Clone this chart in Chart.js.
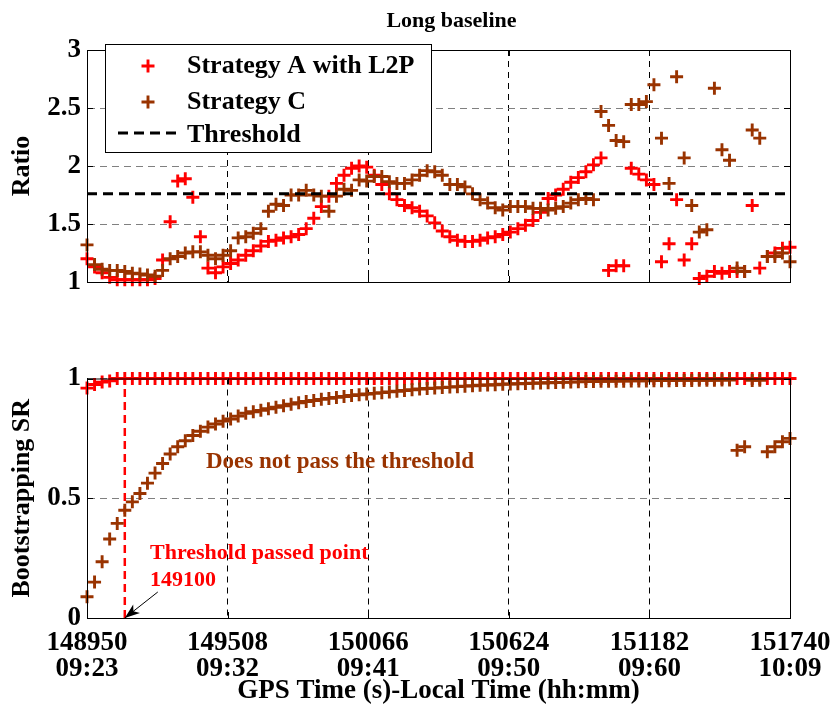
<!DOCTYPE html>
<html>
<head>
<meta charset="utf-8">
<title>Long baseline</title>
<script src="https://cdn.jsdelivr.net/npm/chart.js@4.4.0/dist/chart.umd.min.js"></script>
<style>
  html, body { margin: 0; padding: 0; background: #fff; }
  #wrap { position: relative; width: 835px; height: 707px; }
  .box { position: absolute; left: 0; width: 835px; }
</style>
</head>
<body>
<div id="wrap">
  <div class="box" style="top:0;height:300px"><canvas id="ratioChart"></canvas></div>
  <div class="box" style="top:300px;height:407px"><canvas id="srChart"></canvas></div>
</div>
<script>
// epochs are 30 s apart, from 148950 to 151740
const epochStart = 148950;
const epochStep = 30;

// ratio test values (top panel)
const ratioA = [
  1.20, 1.13, 1.08, 1.04, 1.02, 1.02, 1.02, 1.02, 1.02, 1.03,
  1.19, 1.52, 1.87, 1.89, 1.73, 1.39, 1.12, 1.08, 1.13, 1.16,
  1.19, 1.23, 1.27, 1.31, 1.35, 1.36, 1.38, 1.39, 1.41, 1.46,
  1.55, 1.65, 1.74, 1.85, 1.92, 1.98, 2.00, 1.99, 1.92, 1.84,
  1.76, 1.71, 1.66, 1.64, 1.61, 1.57, 1.51, 1.44, 1.39, 1.36,
  1.35, 1.35, 1.36, 1.38, 1.39, 1.41, 1.43, 1.46, 1.49, 1.53,
  1.60, 1.72, 1.75, 1.80, 1.86, 1.90, 1.95, 2.01, 2.07, 1.10,
  1.14, 1.14, 1.98, 1.93, 1.88, 1.84, 1.175, 1.33, 1.71, 1.19,
  1.33, 1.03, 1.05, 1.09, 1.075, 1.09, 1.09, 1.09, 1.66, 1.12,
  1.22, 1.25, 1.29, 1.30
];
const ratioC = [
  1.32, 1.15, 1.11, 1.10, 1.10, 1.09, 1.075, 1.07, 1.06, 1.05,
  1.10, 1.20, 1.22, 1.25, 1.26, 1.26, 1.23, 1.20, 1.23, 1.27,
  1.38, 1.39, 1.42, 1.46, 1.61, 1.67, 1.66, 1.75, 1.75, 1.79,
  1.75, 1.74, 1.61, 1.74, 1.80, 1.79, 1.88, 1.87, 1.91, 1.91,
  1.865, 1.85, 1.85, 1.88, 1.92, 1.96, 1.95, 1.92, 1.84, 1.84,
  1.82, 1.76, 1.71, 1.68, 1.64, 1.62, 1.65, 1.65, 1.65, 1.635,
  1.635, 1.62, 1.635, 1.65, 1.68, 1.71, 1.72, 1.71, 2.47, 2.35,
  2.22, 2.21, 2.53, 2.53, 2.555, 2.70, 2.24, 1.85, 2.77, 2.07,
  1.66, 1.43, 1.45, 2.67, 2.14, 2.05, 1.12, 1.09, 2.31, 2.24,
  1.22, 1.22, 1.25, 1.175
];
const thresholdRatio = 1.76;

// bootstrapping success rate (bottom panel)
const srA = [
  0.96, 0.975, 0.985, 0.99, 1, 1, 1, 1, 1, 1,
  1, 1, 1, 1, 1, 1, 1, 1, 1, 1,
  1, 1, 1, 1, 1, 1, 1, 1, 1, 1,
  1, 1, 1, 1, 1, 1, 1, 1, 1, 1,
  1, 1, 1, 1, 1, 1, 1, 1, 1, 1,
  1, 1, 1, 1, 1, 1, 1, 1, 1, 1,
  1, 1, 1, 1, 1, 1, 1, 1, 1, 1,
  1, 1, 1, 1, 1, 1, 1, 1, 1, 1,
  1, 1, 1, 1, 1, 1, 1, 1, 1, 1,
  1, 1, 1, 1
];
const srC = [
  0.089, 0.15, 0.235, 0.33, 0.395, 0.45, 0.485, 0.52, 0.563, 0.605,
  0.645, 0.685, 0.715, 0.74, 0.762, 0.78, 0.797, 0.81, 0.822, 0.831,
  0.843, 0.855, 0.861, 0.867, 0.874, 0.88, 0.886, 0.893, 0.899, 0.904,
  0.908, 0.913, 0.917, 0.921, 0.925, 0.929, 0.932, 0.935, 0.938, 0.941,
  0.944, 0.947, 0.95, 0.953, 0.956, 0.958, 0.96, 0.962, 0.964, 0.966,
  0.968, 0.97, 0.972, 0.973, 0.974, 0.976, 0.977, 0.978, 0.979, 0.98,
  0.981, 0.982, 0.983, 0.984, 0.985, 0.986, 0.987, 0.987, 0.988, 0.988,
  0.989, 0.989, 0.99, 0.99, 0.99, 0.991, 0.991, 0.991, 0.992, 0.992,
  0.992, 0.993, 0.993, 0.993, 0.994, 0.994, 0.70, 0.715, 0.992, 0.993,
  0.694, 0.715, 0.736, 0.75
];
const passEpoch = 149100;

// axis ticks
const gpsTicks = [148950, 149508, 150066, 150624, 151182, 151740];
const clockLabels = ["09:23", "09:32", "09:41", "09:50", "09:60", "10:09"];
const ratioTicks = [1, 1.5, 2, 2.5, 3];
const srTicks = [0, 0.5, 1];

const RED = "#ff0000";
const BROWN = "#993300";
const FONT = '"Liberation Serif", "Times New Roman", serif';

const epochs = ratioA.map((_, i) => epochStart + i * epochStep);
const toPoints = (vals) => vals.map((v, i) => ({ x: epochs[i], y: v }));

Chart.defaults.font.family = FONT;
Chart.defaults.color = "#000";

function markerSet(label, vals, color, order) {
  return {
    label: label,
    data: toPoints(vals),
    showLine: false,
    pointStyle: "cross",
    pointRadius: 6.5,
    pointBorderWidth: 2.9,
    borderColor: color,
    backgroundColor: color,
    clip: false,
    order: order,
  };
}

// box round the axes plus small inward tick marks, like matlab
const boxPlugin = {
  id: "box",
  afterDatasetsDraw(chart) {
    const { ctx, chartArea: a, scales } = chart;
    ctx.save();
    ctx.strokeStyle = "#000";
    ctx.lineWidth = 1;
    ctx.strokeRect(a.left + 0.5, a.top + 0.5, a.right - a.left, a.bottom - a.top);
    ctx.beginPath();
    scales.x.ticks.forEach((t) => {
      const px = Math.round(scales.x.getPixelForValue(t.value)) + 0.5;
      ctx.moveTo(px, a.bottom); ctx.lineTo(px, a.bottom - 6);
      ctx.moveTo(px, a.top); ctx.lineTo(px, a.top + 6);
    });
    scales.y.ticks.forEach((t) => {
      const py = Math.round(scales.y.getPixelForValue(t.value)) + 0.5;
      ctx.moveTo(a.left, py); ctx.lineTo(a.left + 6, py);
      ctx.moveTo(a.right, py); ctx.lineTo(a.right - 6, py);
    });
    ctx.stroke();
    ctx.restore();
  },
};

function cross(ctx, x, y, r, color) {
  ctx.strokeStyle = color;
  ctx.lineWidth = 2.9;
  ctx.beginPath();
  ctx.moveTo(x - r, y); ctx.lineTo(x + r, y);
  ctx.moveTo(x, y - r); ctx.lineTo(x, y + r);
  ctx.stroke();
}

const legendPlugin = {
  id: "legendBox",
  afterDraw(chart) {
    const { ctx, chartArea: a } = chart;
    const x0 = a.left + 18, y0 = a.top - 6, w = 326, h = 108;
    ctx.save();
    ctx.fillStyle = "#fff";
    ctx.fillRect(x0, y0, w, h);
    ctx.strokeStyle = "#000";
    ctx.lineWidth = 1;
    ctx.strokeRect(x0 + 0.5, y0 + 0.5, w, h);
    ctx.font = "bold 26px " + FONT;
    ctx.textBaseline = "middle";
    ctx.fillStyle = "#000";
    const ds = chart.data.datasets;
    cross(ctx, x0 + 43, y0 + 22, 6.5, ds[0].borderColor);
    ctx.fillText(ds[0].label, x0 + 82, y0 + 22);
    cross(ctx, x0 + 43, y0 + 58, 6.5, ds[1].borderColor);
    ctx.fillText(ds[1].label, x0 + 82, y0 + 58);
    ctx.strokeStyle = "#000";
    ctx.lineWidth = 3;
    ctx.setLineDash([10, 6]);
    ctx.beginPath();
    ctx.moveTo(x0 + 13, y0 + 89); ctx.lineTo(x0 + 73, y0 + 89);
    ctx.stroke();
    ctx.setLineDash([]);
    ctx.fillText(ds[2].label, x0 + 82, y0 + 91);
    ctx.restore();
  },
};

const notePlugin = {
  id: "notes",
  afterDraw(chart) {
    const { ctx, chartArea: a, scales } = chart;
    ctx.save();
    ctx.textBaseline = "middle";
    ctx.font = "bold 23px " + FONT;
    ctx.fillStyle = BROWN;
    ctx.fillText("Does not pass the threshold", a.left + 119, a.top + 84);
    ctx.font = "bold 22px " + FONT;
    ctx.fillStyle = RED;
    ctx.fillText("Threshold passed point", a.left + 63, a.top + 175);
    ctx.fillText(String(passEpoch), a.left + 63, a.top + 202);
    // arrow to the pass epoch
    const tx = scales.x.getPixelForValue(passEpoch);
    const ty = scales.y.getPixelForValue(0);
    const sx = tx + 33, sy = ty - 26;
    const ang = Math.atan2(ty - sy, tx - sx);
    ctx.strokeStyle = "#000";
    ctx.fillStyle = "#000";
    ctx.lineWidth = 1;
    ctx.beginPath();
    ctx.moveTo(sx, sy); ctx.lineTo(tx, ty);
    ctx.stroke();
    ctx.beginPath();
    ctx.moveTo(tx, ty);
    ctx.lineTo(tx - 16 * Math.cos(ang - 0.35), ty - 16 * Math.sin(ang - 0.35));
    ctx.lineTo(tx - 11 * Math.cos(ang), ty - 11 * Math.sin(ang));
    ctx.lineTo(tx - 16 * Math.cos(ang + 0.35), ty - 16 * Math.sin(ang + 0.35));
    ctx.closePath();
    ctx.fill();
    ctx.restore();
  },
};

const titlePlugin = {
  id: "topTitle",
  afterDraw(chart) {
    const { ctx, chartArea: a } = chart;
    ctx.save();
    ctx.font = "bold 22px " + FONT;
    ctx.textAlign = "center";
    ctx.textBaseline = "middle";
    ctx.fillStyle = "#000";
    ctx.fillText("Long baseline", (a.left + a.right) / 2 + 13, 21);
    ctx.restore();
  },
};

function xScale(showLabels, height) {
  return {
    type: "linear",
    min: gpsTicks[0],
    max: gpsTicks[gpsTicks.length - 1],
    afterBuildTicks: (s) => { s.ticks = gpsTicks.map((v) => ({ value: v })); },
    afterFit: (s) => {
      s.height = height;
      s.paddingLeft = 0;
      s.paddingRight = 0;
    },
    ticks: {
      display: showLabels,
      autoSkip: false,
      maxRotation: 0,
      padding: 12,
      font: { size: 27, weight: "bold", lineHeight: 0.97 },
      callback: (v, i) => [String(gpsTicks[i]), clockLabels[i]],
    },
    grid: { color: "#000", lineWidth: 1, drawTicks: false },
    border: { display: true, color: "#000", width: 1, dash: [6, 5] },
    title: {
      display: showLabels,
      text: "GPS Time (s)-Local Time (hh:mm)",
      font: { size: 27, weight: "bold" },
      padding: { top: 0, bottom: 0 },
    },
  };
}

function yScale(ticks, title) {
  return {
    type: "linear",
    min: ticks[0],
    max: ticks[ticks.length - 1],
    afterBuildTicks: (s) => { s.ticks = ticks.map((v) => ({ value: v })); },
    afterFit: (s) => {
      s.width = 87;
      s.paddingTop = 0;
      s.paddingBottom = 0;
    },
    ticks: {
      padding: 6,
      font: { size: 27, weight: "bold" },
      callback: (v) => String(v),
    },
    grid: { color: "#808080", lineWidth: 1, drawTicks: false },
    border: { display: true, color: "#000", width: 1, dash: [7, 5] },
    title: {
      display: true,
      text: title,
      font: { size: 26, weight: "bold" },
      padding: { top: 7, bottom: 0 },
    },
  };
}

const common = {
  responsive: true,
  maintainAspectRatio: false,
  animation: false,
  events: [],
  plugins: { legend: { display: false }, tooltip: { enabled: false } },
};

new Chart(document.getElementById("ratioChart"), {
  type: "scatter",
  data: {
    datasets: [
      markerSet("Strategy A with L2P", ratioA, RED, 2),
      markerSet("Strategy C", ratioC, BROWN, 1),
      {
        label: "Threshold",
        type: "line",
        data: [
          { x: gpsTicks[0], y: thresholdRatio },
          { x: gpsTicks[gpsTicks.length - 1], y: thresholdRatio },
        ],
        borderColor: "#000",
        borderWidth: 3,
        borderDash: [10, 6],
        pointRadius: 0,
        order: 0,
      },
    ],
  },
  options: Object.assign({}, common, {
    layout: { padding: { top: 50, right: 45, left: 0, bottom: 0 } },
    scales: { x: xScale(false, 18), y: yScale(ratioTicks, "Ratio") },
  }),
  plugins: [boxPlugin, titlePlugin, legendPlugin],
});

new Chart(document.getElementById("srChart"), {
  type: "scatter",
  data: {
    datasets: [
      markerSet("Strategy A with L2P", srA, RED, 2),
      markerSet("Strategy C", srC, BROWN, 1),
      {
        label: "Threshold passed",
        type: "line",
        data: [
          { x: passEpoch, y: srTicks[0] },
          { x: passEpoch, y: srTicks[srTicks.length - 1] },
        ],
        borderColor: RED,
        borderWidth: 2.5,
        borderDash: [8, 5],
        pointRadius: 0,
        order: 3,
      },
    ],
  },
  options: Object.assign({}, common, {
    layout: { padding: { top: 78.5, right: 45, left: 0, bottom: 0 } },
    scales: { x: xScale(true, 89), y: yScale(srTicks, "Bootstrapping SR") },
  }),
  plugins: [boxPlugin, notePlugin],
});
</script>
</body>
</html>
